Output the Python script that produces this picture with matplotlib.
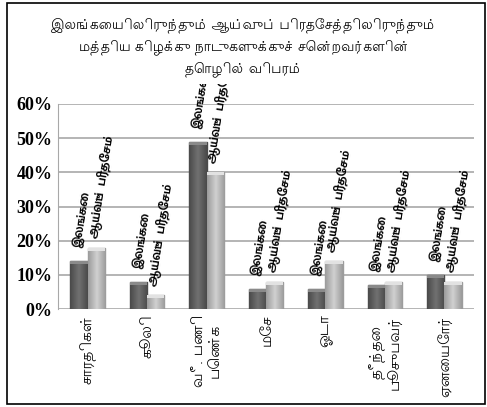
import numpy as np
import matplotlib
matplotlib.use("Agg")
import matplotlib.pyplot as plt
from matplotlib.patches import Rectangle
from matplotlib.transforms import Bbox, TransformedBbox

# datos del grafico
categorias = ["சாரதிகள்", "கூலி", "வீ. பணி\nபெண்க", "மேச", "ஓடா", "தீந்தை\nபூசுபவர்", "ஏனையோர்"]
lanka = [14, 8, 49, 6, 6, 7, 10]
area = [18, 4, 40, 8, 14, 8, 8]
etiqueta_lanka = "இலங்கை"
etiqueta_area = "ஆய்வுப்  பிரதேசம்"
titulo = "இலங்கையிலிருந்தும் ஆய்வுப் பிரதேசத்திலிருந்தும்\nமத்திய கிழக்கு நாடுகளுக்குச் சென்றவர்களின்\nதொழில் விபரம்"
yticks = [0, 10, 20, 30, 40, 50, 60]

tamil = ["Lohit Tamil", "DejaVu Sans"]
tamil_bold = ["Mukta Malar", "Lohit Tamil", "DejaVu Sans"]

fig = plt.figure(figsize=(4.87, 4.07), dpi=100)

# marco exterior
fig.patches.append(Rectangle((7 / 487, 1 - 404 / 407), 478 / 487, 401 / 407,
                             transform=fig.transFigure, fill=False,
                             edgecolor="black", linewidth=1.2))

fig.text(0.5, 1 - 47 / 407, titulo, ha="center", va="center",
         fontsize=10, family=tamil, linespacing=1.55)

ax = fig.add_axes([58 / 487, 1 - 309 / 407, 416 / 487, 205 / 407])

x = np.arange(len(categorias))
w = 0.29


def pintar(barras, c_borde, c_centro, c_tapa):
    # degradado horizontal para simular barras 3D
    grad = np.linspace(0, 1, 32)
    grad = 1 - np.abs(grad - 0.5) * 2
    cmap = matplotlib.colors.LinearSegmentedColormap.from_list("g", [c_borde, c_centro])
    for b in barras:
        x0, y0 = b.get_x(), b.get_y()
        x1, y1 = x0 + b.get_width(), y0 + b.get_height()
        im = ax.imshow(grad[None, :], cmap=cmap, aspect="auto",
                       extent=[x0, x1, y0, y1], zorder=3)
        im.set_clip_path(b)
        # tapa superior mas clara
        cap = min(0.9, b.get_height())
        ax.add_patch(Rectangle((x0, y1 - cap), b.get_width(), cap,
                               facecolor=c_tapa, edgecolor="none", zorder=4))
        b.set_edgecolor(c_borde)


b1 = ax.bar(x - w / 2, lanka, w, color="#5f5f5f", zorder=2)
b2 = ax.bar(x + w / 2, area, w, color="#bdbdbd", zorder=2)
pintar(b1, "#4a4a4a", "#707070", "#8a8a8a")
pintar(b2, "#9c9c9c", "#cfcfcf", "#e2e2e2")

# las etiquetas se recortan en el borde superior del area del grafico
recorte = TransformedBbox(Bbox([[0, 0], [1, 1 - 84 / 407]]), fig.transFigure)

# etiquetas de datos inclinadas
for xi, v in zip(x, lanka):
    t = ax.annotate(etiqueta_lanka, (xi - w / 2, v), xytext=(-1, 10),
                    textcoords="offset points", rotation=81, rotation_mode="anchor",
                    ha="left", va="center", fontsize=9, family=tamil_bold,
                    fontweight="bold", annotation_clip=False)
    t.set_clip_box(recorte)
    t.set_clip_on(True)
for xi, v in zip(x, area):
    t = ax.annotate(etiqueta_area, (xi + w / 2, v), xytext=(-2, 7),
                    textcoords="offset points", rotation=81, rotation_mode="anchor",
                    ha="left", va="center", fontsize=9, family=tamil_bold,
                    fontweight="bold", annotation_clip=False)
    t.set_clip_box(recorte)
    t.set_clip_on(True)

ax.set_xlim(-0.5, len(categorias) - 0.5)
ax.set_ylim(0, 60)
ax.set_yticks(yticks)
ax.set_yticklabels([f"{t}%" for t in yticks], family="Liberation Serif",
                   fontweight="bold", fontsize=13)
ax.set_xticks(x)
ax.set_xticklabels(categorias, rotation=90, family=tamil, fontsize=11,
                   va="top", ha="center", linespacing=1.1)
ax.tick_params(axis="both", length=0, pad=4)
ax.yaxis.grid(True, color="#a8a8a8", linewidth=1.2, zorder=0)
for s in ["top", "right", "bottom"]:
    ax.spines[s].set_visible(False)
ax.spines["left"].set_color("#a8a8a8")
ax.set_facecolor("white")

fig.savefig("out.png", dpi=100)
